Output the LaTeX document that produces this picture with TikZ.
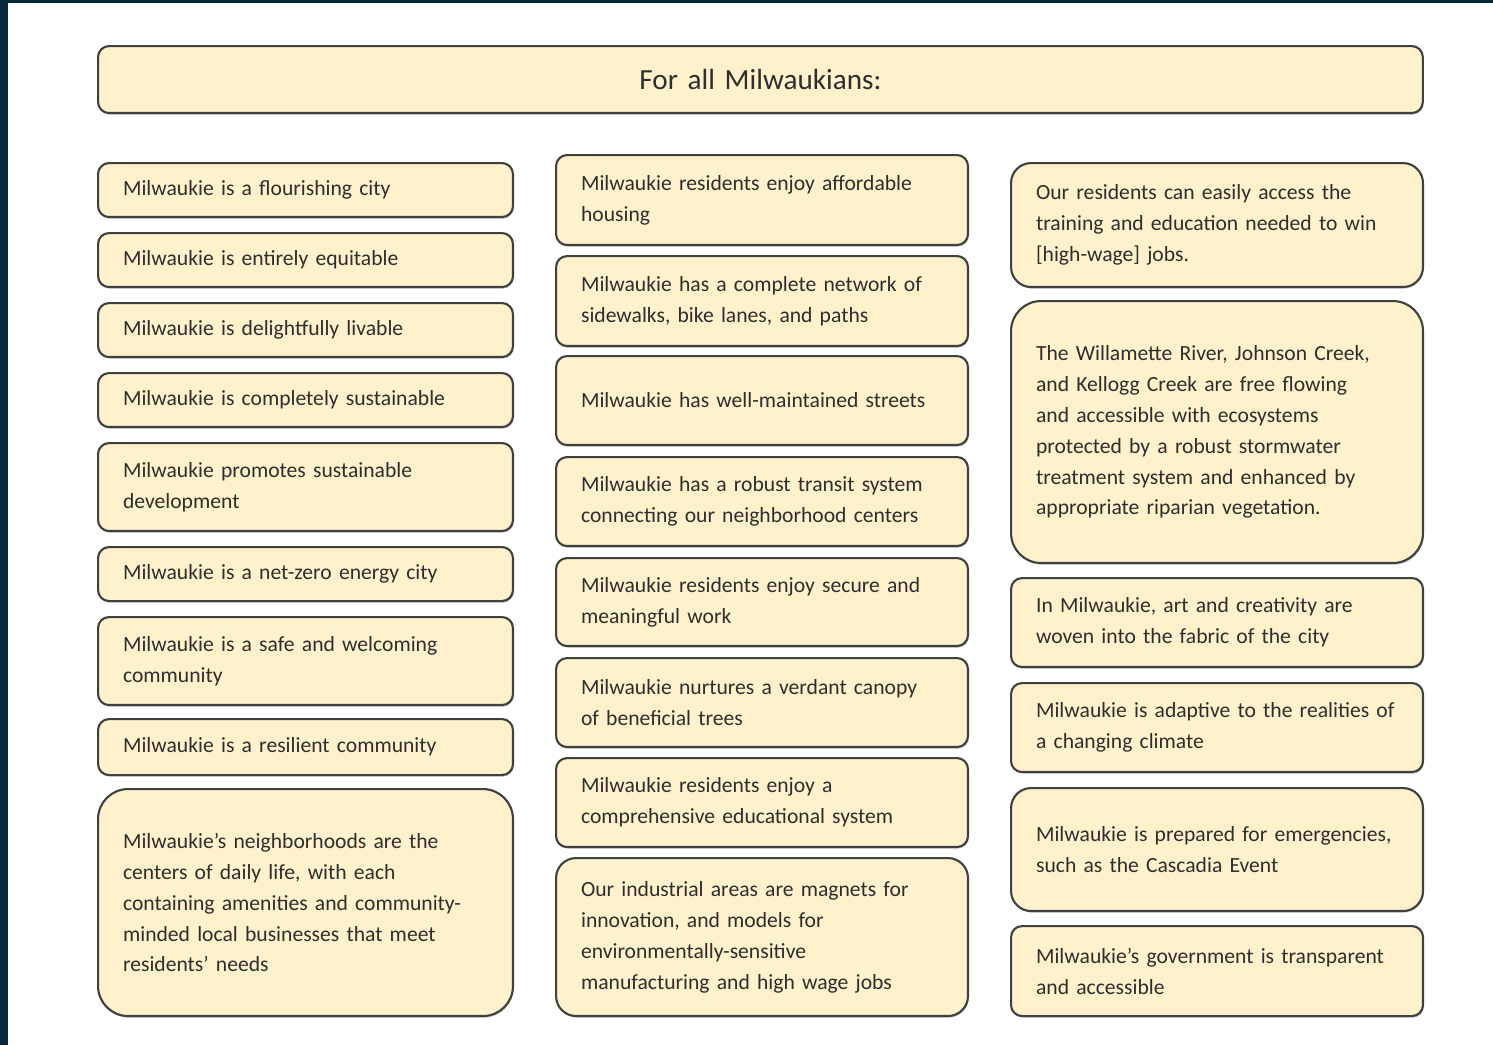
\documentclass[tikz,border=0pt]{standalone}
\usepackage{fontspec}
\setmainfont{Carlito}
\usetikzlibrary{shadows}
\definecolor{frame}{HTML}{062A3B}
\definecolor{boxfill}{HTML}{FFF1CC}
\definecolor{boxline}{HTML}{404040}
\definecolor{ink}{HTML}{2E2E2E}
\hyphenpenalty=10000
\begin{document}
\begin{tikzpicture}[x=0.02cm,y=-0.02cm,
  goal/.style={draw=boxline,fill=boxfill,line width=1.2pt,rounded corners=0.22cm,
    drop shadow={shadow xshift=0.5pt,shadow yshift=-0.9pt,fill=black!50,opacity=0.45},
    anchor=north west,align=left,inner xsep=0.5cm,inner ysep=0pt,text=ink,
    font=\fontsize{12.3}{17.6}\selectfont},
  colL/.style={goal,text width=7.3cm},
  colM/.style={goal,text width=7.24cm},
  colR/.style={goal,text width=7.24cm},
  tall/.style={rounded corners=0.6cm}]
\fill[white] (0,0) rectangle (1493,1045);
\fill[frame] (0,0) rectangle (8,1045);
\fill[frame] (0,0) rectangle (1493,3);
\node[goal,align=center,text width=25.5cm,minimum height=1.34cm,font=\fontsize{16.6}{20}\selectfont] (title) at (97,45) {For all Milwaukians:};
% left column
\node[colL,minimum height=1.08cm] (l1) at (97,162) {Milwaukie is a flourishing city};
\node[colL,minimum height=1.08cm] (l2) at (97,232) {Milwaukie is entirely equitable};
\node[colL,minimum height=1.08cm] (l3) at (97,302) {Milwaukie is delightfully livable};
\node[colL,minimum height=1.08cm] (l4) at (97,372) {Milwaukie is completely sustainable};
\node[colL,minimum height=1.76cm] (l5) at (97,442) {Milwaukie promotes sustainable\\development};
\node[colL,minimum height=1.08cm] (l6) at (97,546) {Milwaukie is a net-zero energy city};
\node[colL,minimum height=1.76cm] (l7) at (97,616) {Milwaukie is a safe and welcoming\\community};
\node[colL,minimum height=1.12cm] (l8) at (97,718) {Milwaukie is a resilient community};
\node[colL,tall,minimum height=4.54cm] (l9) at (97,788) {Milwaukie’s neighborhoods are the\\centers of daily life, with each\\containing amenities and community-\\minded local businesses that meet\\residents’ needs};
% middle column
\node[colM,minimum height=1.8cm] (m1) at (555,154) {Milwaukie residents enjoy affordable\\housing};
\node[colM,minimum height=1.8cm] (m2) at (555,255) {Milwaukie has a complete network of\\sidewalks, bike lanes, and paths};
\node[colM,minimum height=1.78cm] (m3) at (555,355) {Milwaukie has well-maintained streets};
\node[colM,minimum height=1.78cm] (m4) at (555,456) {Milwaukie has a robust transit system\\connecting our neighborhood centers};
\node[colM,minimum height=1.76cm] (m5) at (555,557) {Milwaukie residents enjoy secure and\\meaningful work};
\node[colM,minimum height=1.78cm] (m6) at (555,657) {Milwaukie nurtures a verdant canopy\\of beneficial trees};
\node[colM,minimum height=1.78cm] (m7) at (555,757) {Milwaukie residents enjoy a\\comprehensive educational system};
\node[colM,rounded corners=0.4cm,minimum height=3.16cm] (m8) at (555,857) {Our industrial areas are magnets for\\innovation, and models for\\environmentally-sensitive\\manufacturing and high wage jobs};
% right column
\node[colR,rounded corners=0.4cm,minimum height=2.48cm] (r1) at (1010,162) {Our residents can easily access the\\training and education needed to win\\{[high-wage]} jobs.};
\node[colR,tall,minimum height=5.24cm] (r2) at (1010,300) {The Willamette River, Johnson Creek,\\and Kellogg Creek are free flowing\\and accessible with ecosystems\\protected by a robust stormwater\\treatment system and enhanced by\\appropriate riparian vegetation.};
\node[colR,minimum height=1.78cm] (r3) at (1010,577) {In Milwaukie, art and creativity are\\woven into the fabric of the city};
\node[colR,minimum height=1.78cm] (r4) at (1010,682) {Milwaukie is adaptive to the realities of\\a changing climate};
\node[colR,rounded corners=0.4cm,minimum height=2.46cm] (r5) at (1010,787) {Milwaukie is prepared for emergencies,\\such as the Cascadia Event};
\node[colR,minimum height=1.8cm] (r6) at (1010,925) {Milwaukie’s government is transparent\\and accessible};
\end{tikzpicture}
\end{document}
